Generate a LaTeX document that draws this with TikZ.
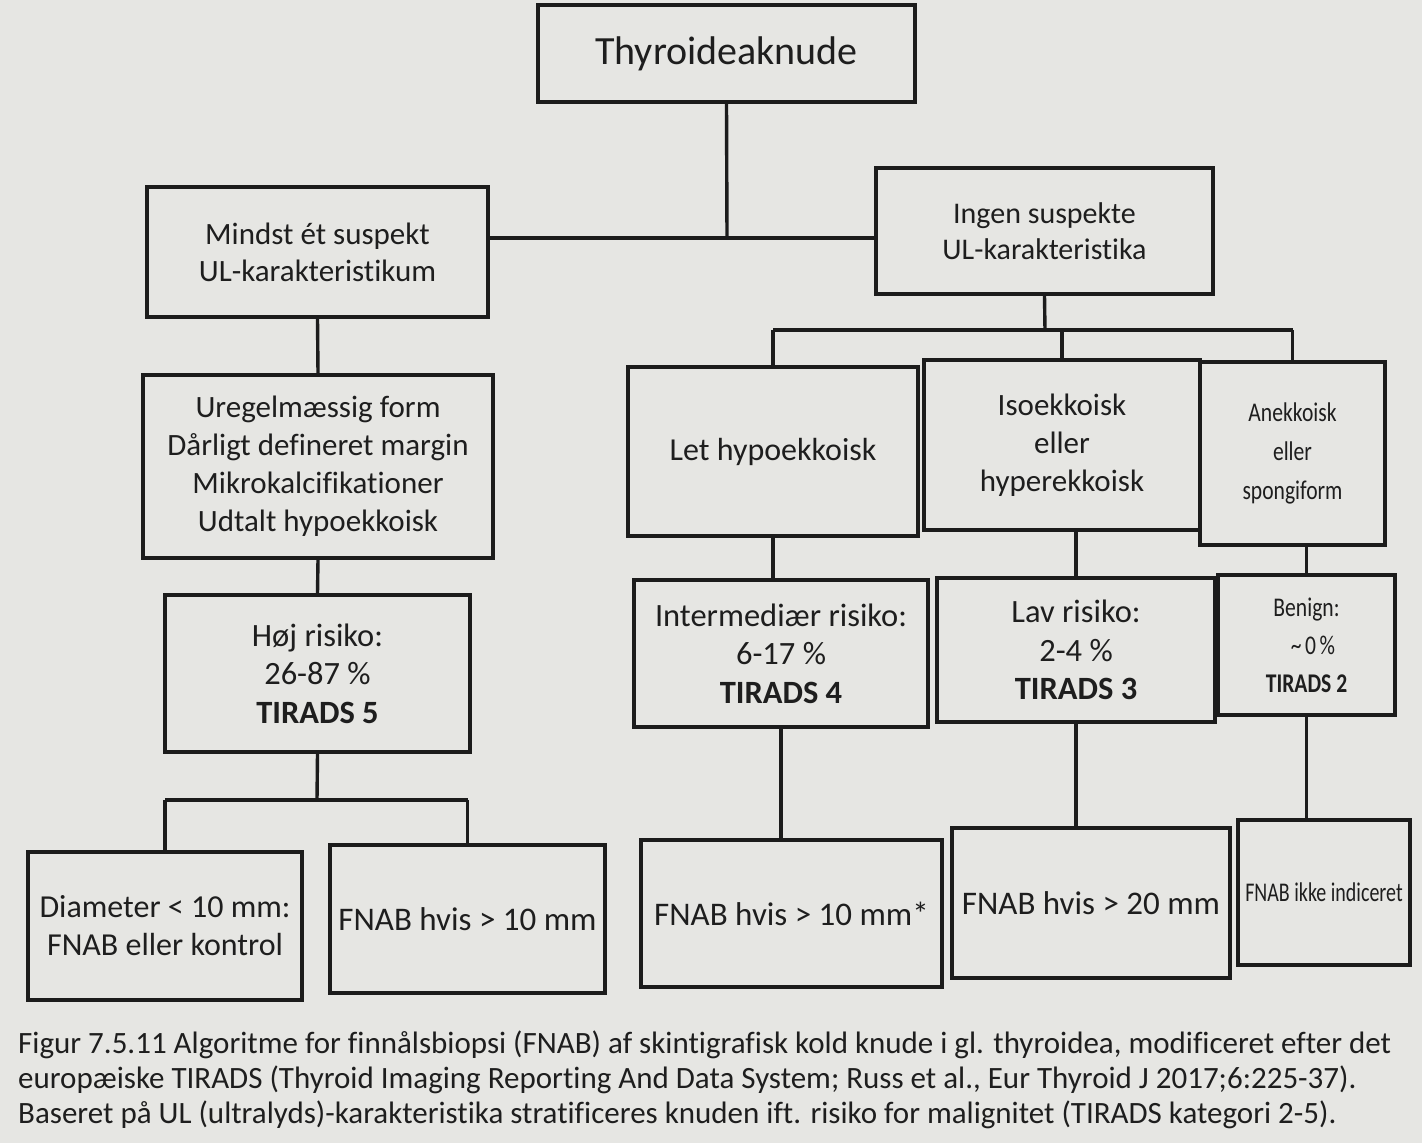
\documentclass[tikz,border=0pt]{standalone}
\usepackage{fontspec}
\setmainfont{Carlito}[Ligatures={NoCommon}]
\newcommand{\narrow}[1]{\scalebox{0.8}[1]{#1}}
\begin{document}
\begin{tikzpicture}[x=1pt,y=-1pt,
  box/.style={draw=boxline, line width=3.6pt, fill=paper, align=center, inner sep=0pt,
              text=ink, font=\fontsize{31}{37}\selectfont},
  riskbox/.style={box, font=\fontsize{32.5}{38.5}\selectfont},
  endbox/.style={box, font=\fontsize{33}{38}\selectfont},
  smallbox/.style={box, font=\fontsize{27}{39}\selectfont},
  link/.style={draw=boxline, line width=3.4pt}]
\definecolor{paper}{RGB}{230,230,227}
\definecolor{boxline}{RGB}{28,28,28}
\definecolor{ink}{RGB}{30,30,30}
% page background
\fill[paper] (0,0) rectangle (1422,1143);
\useasboundingbox (0,0) rectangle (1422,1143);

% --- level 0
\node[box, minimum width=377, minimum height=97, font=\fontsize{40}{46}\selectfont] (thy) at (726.5,53.5) {Thyroideaknude};

% --- level 1
\node[box, minimum width=341, minimum height=130] (mind) at (317.5,252) {Mindst ét suspekt\\UL-karakteristikum};
\node[box, minimum width=337, minimum height=126, font=\fontsize{30}{36}\selectfont] (ingen) at (1044.5,231) {Ingen suspekte\\UL-karakteristika};

% --- level 2
\node[box, minimum width=350, minimum height=183, font=\fontsize{31}{38}\selectfont] (ureg) at (318,466.5) {Uregelmæssig form\\Dårligt defineret margin\\Mikrokalcifikationer\\Udtalt hypoekkoisk};
\node[box, minimum width=290, minimum height=169, font=\fontsize{32}{38}\selectfont] (let) at (773,451.5) {Let hypoekkoisk};
\node[box, minimum width=276, minimum height=170, font=\fontsize{31}{38}\selectfont] (iso) at (1062,445) {Isoekkoisk\\eller\\hyperekkoisk};
\node[smallbox, minimum width=185, minimum height=183] (anek) at (1292.5,453.5) {\narrow{Anekkoisk}\\\narrow{eller}\\\narrow{spongiform}};

% --- level 3
\node[riskbox, minimum width=305, minimum height=157] (hoj) at (317.5,673.5) {Høj risiko:\\26-87 \%\\\textbf{TIRADS 5}};
\node[riskbox, minimum width=294, minimum height=147] (inter) at (781,653.5) {Intermediær risiko:\\6-17 \%\\\textbf{TIRADS 4}};
\node[riskbox, minimum width=278, minimum height=144] (lav) at (1076,650) {Lav risiko:\\2-4 \%\\\textbf{TIRADS 3}};
\node[smallbox, minimum width=177, minimum height=140, font=\fontsize{27}{38}\selectfont] (ben) at (1306.5,645) {\narrow{Benign:}\\\narrow{\hspace*{0.6em}\textasciitilde\,0\,\%}\\\narrow{\textbf{TIRADS 2}}};

% --- level 4
\node[endbox, minimum width=274, minimum height=148, font=\fontsize{32}{38}\selectfont] (diam) at (165,926) {Diameter < 10 mm:\\FNAB eller kontrol};
\node[endbox, minimum width=275, minimum height=148] (f5) at (467.5,919) {FNAB hvis > 10 mm};
\node[endbox, minimum width=301, minimum height=147] (f4) at (791.5,913.5) {FNAB hvis > 10 mm*};
\node[endbox, minimum width=278, minimum height=150] (f3) at (1091,903) {FNAB hvis > 20 mm};
\node[smallbox, minimum width=172, minimum height=145] (f2) at (1324,892.5) {\scalebox{0.74}[1]{FNAB ikke indiceret}};

% --- junction points
\coordinate (j1) at (727,238);
\coordinate (j2) at (1045,330);
\coordinate (j3) at (317,800);

% --- connectors
\draw[link] (thy.south) -- (j1);
\draw[link] (mind.east |- j1) -- (ingen.west |- j1);

\draw[link] (ingen.south) -- (j2);
\draw[link] (let.north |- j2) -- (anek.north |- j2);
\draw[link] (let.north |- j2) -- (let.north);
\draw[link] (iso.north |- j2) -- (iso.north);
\draw[link] (anek.north |- j2) -- (anek.north);

\draw[link] (mind.south) -- (ureg.north);
\draw[link] (ureg.south) -- (hoj.north);
\draw[link] (let.south) -- (let.south |- inter.north);
\draw[link] (lav.north |- iso.south) -- (lav.north);
\draw[link] (ben.north |- anek.south) -- (ben.north);

\draw[link] (hoj.south) -- (j3);
\draw[link] (diam.north |- j3) -- (f5.north |- j3);
\draw[link] (diam.north |- j3) -- (diam.north);
\draw[link] (f5.north |- j3) -- (f5.north);
\draw[link] (inter.south) -- (inter.south |- f4.north);
\draw[link] (lav.south) -- (lav.south |- f3.north);
\draw[link] (ben.south) -- (ben.south |- f2.north);

% --- caption
\begin{scope}[every node/.style={anchor=base west, inner sep=0pt, text=ink, font=\fontsize{31}{35}\selectfont}]
\node (cap1) at (18,1053) {Figur 7.5.11 Algoritme for finnålsbiopsi (FNAB) af skintigrafisk kold knude i gl. thyroidea, modificeret efter det};
\node (cap2) at (18,1088) {europæiske TIRADS (Thyroid Imaging Reporting And Data System; Russ et al., Eur Thyroid J 2017;6:225-37).};
\node (cap3) at (18,1123) {Baseret på UL (ultralyds)-karakteristika stratificeres knuden ift. risiko for malignitet (TIRADS kategori 2-5).};
\end{scope}
\end{tikzpicture}
\end{document}
